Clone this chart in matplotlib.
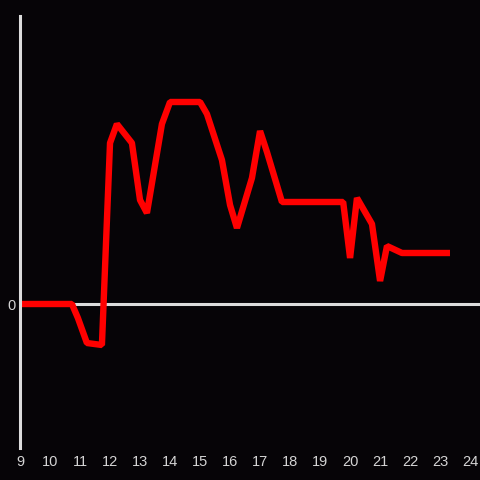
import matplotlib
matplotlib.use("Agg")
import matplotlib.pyplot as plt

# hours of the day and the signal (arbitrary units, 0 = baseline)
hours = [9.0, 10.73, 10.93, 11.23, 11.73, 12.0, 12.23, 12.73, 13.0, 13.23,
         13.73, 14.0, 15.0, 15.23, 15.73, 16.0, 16.23, 16.73, 17.0, 17.23,
         17.73, 19.77, 20.0, 20.23, 20.73, 21.0, 21.23, 21.73, 23.33]
values = [0.0, 0.0, -1.4, -3.9, -4.1, 16.1, 18.0, 16.1, 10.4, 9.1,
          18.0, 20.2, 20.2, 19.0, 14.4, 9.9, 7.6, 12.6, 17.3, 15.2,
          10.2, 10.2, 4.6, 10.6, 8.0, 2.3, 5.8, 5.1, 5.1]
xticks = list(range(9, 25))

bg = "#060407"
axis_col = "#dcdcdc"
text_col = "#d4d4d4"

fig = plt.figure(figsize=(4.8, 4.8), dpi=100, facecolor=bg)
ax = fig.add_axes([20 / 480, 32 / 480, 460 / 480, 432 / 480], facecolor=bg)

ax.axhline(0, color=axis_col, lw=2.2, zorder=1)
ax.plot(hours, values, color="#ff0000", lw=4.6, solid_joinstyle="bevel",
        solid_capstyle="butt", zorder=2)

ax.set_xlim(9, 24.33)
ax.set_ylim(-14.4, 28.8)

for s in ["top", "right", "bottom"]:
    ax.spines[s].set_visible(False)
ax.spines["left"].set_color(axis_col)
ax.spines["left"].set_linewidth(2.2)

ax.set_xticks(xticks)
ax.set_xticklabels([str(t) for t in xticks])
ax.set_yticks([0])
ax.set_yticklabels(["0"])
ax.tick_params(axis="both", length=0, colors=text_col, labelsize=10.5)
ax.tick_params(axis="x", pad=5)
ax.tick_params(axis="y", pad=3)
for lbl in ax.get_xticklabels() + ax.get_yticklabels():
    lbl.set_family("Liberation Sans")

fig.savefig("out.png", dpi=100, facecolor=bg)
